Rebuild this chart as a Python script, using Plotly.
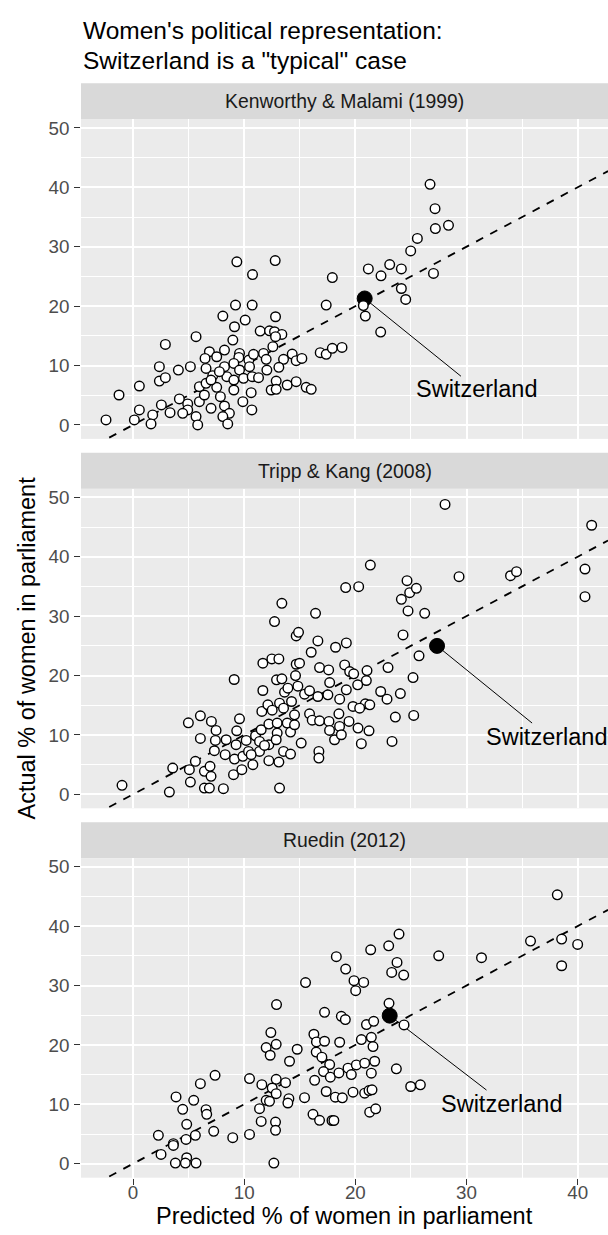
import plotly.graph_objects as go

# ---------------- data ----------------
panel_titles = ["Kenworthy & Malami (1999)", "Tripp & Kang (2008)", "Ruedin (2012)"]

km_pred = [9.34, 12.79, 10.75, -1.26, 0.12, -2.43, 9.22, 10.72, 8.08, 12.82, 9.13, 10.09, 11.44, 12.28,
           12.73, 13.39, 12.82, 5.67, 2.91, 8.98, 12.58, 6.87, 6.48, 7.53, 8.23, 9.58, 9.52, 10.42, 10.84,
           11.74, 11.98, 13.54, 14.32, 14.68, 15.19, 2.37, 4.08, 5.16, 2.37, 2.91, 6.57, 7.17, 8.23, 9.07,
           8.44, 9.07, 9.58, 9.94, 10.48, 10.72, 11.29, 12.04, 13.12, 12.88, 13.87, 14.68, 15.58, 16.03,
           12.43, 12.88, 0.57, 5.97, 6.57, 7.53, 7.86, 9.07, 9.88, 10.63, 10.69, 4.17, 4.92, 5.97, 7.02,
           8.23, 8.67, 8.08, 8.52, 5.67, 5.82, 4.92, 4.47, 2.55, 3.33, 1.77, 1.62, 0.57, 7.02, 7.77, 6.42,
           26.72, 27.17, 27.2, 28.38, 25.58, 24.98, 21.17, 23.09, 24.14, 22.31, 27.03, 17.93, 24.14, 24.53,
           17.38, 20.72, 20.9, 22.28, 16.84, 17.38, 17.93, 18.8]
km_act = [27.45, 27.67, 25.32, 5.04, 0.84, 0.84, 20.17, 20.17, 18.32, 18.21, 16.53, 17.65, 15.8, 15.85,
          15.69, 15.24, 14.85, 14.85, 13.56, 14.29, 13.17, 12.32, 11.2, 11.48, 12.61, 12.04, 11.37, 10.92,
          11.88, 12.04, 11.04, 11.04, 11.93, 10.81, 11.2, 9.8, 9.24, 9.8, 7.39, 7.96, 9.52, 8.29, 9.8,
          10.36, 8.12, 7.56, 9.24, 7.84, 9.8, 8.12, 7.96, 9.24, 9.69, 7.39, 6.72, 7.28, 6.33, 5.99, 5.88,
          5.99, 6.55, 6.44, 7.0, 6.33, 4.76, 5.88, 3.92, 5.43, 2.52, 4.37, 3.53, 3.92, 2.8, 3.19, 1.96,
          1.4, 0.17, 1.4, 0.0, 2.52, 1.96, 3.36, 2.07, 1.68, 0.17, 2.52, 7.56, 8.96, 5.04,
          40.5, 36.4, 33.05, 33.6, 31.4, 29.3, 26.27, 27.0, 26.27, 25.1, 25.5, 24.8, 22.97, 21.12,
          20.17, 20.1, 18.32, 15.63, 12.16, 11.88, 12.89, 13.05]

tk_pred = [-0.99, 3.27, 3.57, 5.16, 5.07, 5.61, 6.42, 6.93, 7.02, 6.42, 6.87, 8.13, 4.98, 6.06, 7.05,
           7.47, 6.06, 7.41, 7.32, 8.38, 8.29, 9.13, 9.04, 9.79, 9.88, 9.27, 9.33, 9.58, 9.1, 10.18,
           10.39, 10.78, 11.02, 11.38, 11.38, 11.53, 11.68, 11.59, 11.68, 12.13, 12.22, 12.22, 12.22,
           12.49, 13.12, 12.73, 13.39, 12.91, 13.39, 12.52, 12.97, 12.97, 12.88, 13.12, 13.18, 13.18,
           13.54, 13.63, 13.54, 13.93, 13.87, 14.26, 14.17, 14.17, 14.53, 14.53, 14.68, 14.89, 14.68,
           14.98, 14.62, 14.83, 15.13, 15.43, 15.88, 15.88, 16.03, 16.12, 16.42, 16.63, 16.78, 16.63,
           16.72, 16.72, 16.78, 11.83, 10.63,
           28.07, 41.26, 21.35, 19.13, 20.3, 24.65, 24.89, 25.49, 24.14, 24.74, 26.24, 29.33, 33.96,
           34.5, 40.66, 40.66, 24.29, 25.73, 25.19, 22.94, 22.28, 22.85, 24.05, 23.6, 25.25, 23.3,
           18.22, 19.19, 19.04, 19.49, 19.85, 21.05, 20.99, 20.21, 19.19, 17.69, 17.6, 18.59, 17.53,
           19.79, 20.9, 21.3, 20.39, 18.52, 17.63, 18.58, 19.43, 20.24, 21.23, 17.68, 18.13, 18.74, 20.54]
tk_act = [1.51, 0.39, 4.43, 2.07, 4.15, 5.55, 3.87, 4.71, 3.03, 1.06, 1.06, 0.95, 12.04, 13.22, 12.27,
          10.76, 9.41, 9.08, 7.34, 9.19, 6.67, 5.94, 3.31, 4.15, 6.39, 8.35, 10.7, 12.72, 19.33, 9.08,
          7.23, 4.99, 9.86, 7.23, 8.9, 10.87, 17.48, 13.95, 22.07, 15.07, 11.82, 8.35, 5.66,
          22.8, 22.8, 29.08, 32.16, 19.27, 19.44, 14.17, 11.99, 10.31, 9.19, 5.43, 1.06, 15.35,
          14.51, 17.2, 7.23, 17.87, 11.99, 15.63, 10.48, 6.78, 13.39, 11.71, 26.67, 27.28, 21.9,
          22.07, 20.0, 18.21, 8.63, 16.86, 17.42, 13.56, 23.92, 12.49, 30.48, 25.83, 21.34, 16.47,
          7.23, 6.11, 12.38, 8.24, 6.67,
          48.8, 45.3, 38.6, 34.8, 34.96, 35.97, 33.95, 34.68, 32.83, 30.87, 30.48, 36.64, 36.8,
          37.48, 37.93, 33.28, 26.83, 23.31, 19.66, 21.34, 17.31, 16.02, 16.97, 13.0, 13.28, 8.91,
          24.76, 25.49, 21.79, 20.67, 20.28, 20.84, 19.16, 18.43, 17.59, 18.82, 20.95, 16.02, 16.75,
          14.79, 15.24, 15.07, 14.51, 13.56, 12.27, 11.43, 12.27, 11.15, 10.7, 10.76, 9.19, 10.03, 8.52]

ru_pred = [15.52, 12.91, 12.4, 12.88, 11.98, 12.34, 14.77, 14.08, 7.38, 6.06, 10.48, 11.59, 12.88, 13.72,
           12.52, 12.88, 11.98, 12.28, 14.02, 13.93, 15.43, 11.38, 11.53, 12.82, 12.82, 10.48, 8.97,
           16.19, 16.78, 16.34, 16.27, 16.48, 3.87, 4.47, 5.46, 6.57, 6.63, 4.83, 5.61, 4.77, 7.26, 2.28,
           3.63, 3.63, 2.52, 4.83, 3.81, 4.71, 5.67, 12.67, 16.5,
           38.17, 35.76, 38.56, 40.0, 38.56, 31.35, 27.5, 23.93, 23.0, 21.38, 18.29, 19.13, 23.75, 23.27,
           24.35, 19.88, 20.75, 20.03, 23.03, 24.38, 17.23, 18.74, 19.1, 21.0, 21.65, 21.44, 21.59, 20.54,
           18.59, 17.23, 16.99, 17.69, 19.34, 20.09, 20.84, 21.74, 17.14, 17.75, 18.52, 19.64, 21.44,
           23.69, 17.38, 18.2, 18.83, 19.79, 20.84, 21.23, 21.5, 24.98, 25.85, 21.29, 21.83, 17.9, 18.07]
ru_act = [30.5, 26.8, 22.08, 20.11, 19.55, 18.26, 19.27, 17.25, 14.89, 13.48, 14.33, 13.31, 14.21, 13.65,
          12.75, 11.8, 10.67, 10.51, 10.96, 10.22, 11.12, 9.27, 7.13, 7.02, 5.62, 4.94, 4.38,
          8.31, 7.3, 14.04, 21.8, 18.8, 11.24, 9.16, 10.67, 9.1, 8.31, 6.63, 4.78, 4.1, 5.45, 4.78,
          3.37, 3.09, 1.57, 1.01, 0.11, 0.11, 0.11, 0.11, 20.5,
          45.27, 37.48, 37.82, 36.92, 33.33, 34.68, 35.01, 38.66, 36.69, 36.02, 34.85, 32.77, 33.89, 32.21,
          31.76, 30.81, 30.53, 29.13, 27.0, 23.36, 25.49, 24.82, 24.26, 23.42, 23.98, 21.29, 19.72, 20.9,
          20.45, 20.62, 17.93, 16.69, 16.08, 16.64, 16.92, 17.25, 15.52, 14.57, 15.29, 15.01, 15.24,
          15.97, 12.16, 11.2, 11.09, 12.04, 11.88, 12.32, 12.44, 13.0, 13.28, 8.68, 9.24, 7.28, 7.28]

swiss_pred = [20.84, 27.35, 23.09]
swiss_act = [21.29, 24.99, 24.93]
label_text = "Switzerland"
label_x = [30.9, 37.2, 33.15]
label_y = [6.0, 9.6, 10.1]
seg_end_x = [29.5, 35.9, 31.8]
seg_end_y = [8.2, 12.0, 12.4]

x_ticks = [0, 10, 20, 30, 40]
y_ticks = [0, 10, 20, 30, 40, 50]
x_range = [-4.68, 42.73]
y_range = [-2.35, 51.45]

title_lines = ["Women's political representation:", 'Switzerland is a "typical" case']
x_title = "Predicted % of women in parliament"
y_title = "Actual % of women in parliament"

# ---------------- layout geometry (pixels) ----------------
W, H = 608, 1235
PX0, PX1 = 81.0, 608.0
panel_top = [117.5, 487.5, 857.5]
panel_bot = [437.6, 807.6, 1177.6]
STRIP_H = 36.0
FONT = "Liberation Sans, Arial, Helvetica, sans-serif"

def fx(p):
    return p / W

def fy(p):
    return 1 - p / H

fig = go.Figure()
preds = [km_pred, tk_pred, ru_pred]
acts = [km_act, tk_act, ru_act]

for i in range(3):
    xa = "x" if i == 0 else f"x{i+1}"
    ya = "y" if i == 0 else f"y{i+1}"
    # 45-degree reference line
    fig.add_trace(go.Scatter(x=[x_range[0], x_range[1]], y=[x_range[0], x_range[1]], mode="lines",
                             line=dict(color="black", width=1.8, dash="8px,8px"),
                             xaxis=xa, yaxis=ya, showlegend=False, hoverinfo="skip"))
    # label segment
    fig.add_trace(go.Scatter(x=[swiss_pred[i], seg_end_x[i]], y=[swiss_act[i], seg_end_y[i]], mode="lines",
                             line=dict(color="black", width=1.0),
                             xaxis=xa, yaxis=ya, showlegend=False, hoverinfo="skip"))
    # Switzerland
    fig.add_trace(go.Scatter(x=[swiss_pred[i]], y=[swiss_act[i]], mode="markers",
                             marker=dict(symbol="circle", size=15, color="black",
                                         line=dict(color="black", width=1)),
                             xaxis=xa, yaxis=ya, showlegend=False))
    # all countries
    fig.add_trace(go.Scatter(x=preds[i], y=acts[i], mode="markers",
                             marker=dict(symbol="circle", size=9.6, color="white",
                                         line=dict(color="black", width=1.4)),
                             xaxis=xa, yaxis=ya, showlegend=False))

axis_common = dict(showline=False, zeroline=False, gridcolor="white", gridwidth=2.2,
                   tickfont=dict(family=FONT, size=18.8, color="#4D4D4D"),
                   tickcolor="#333333", tickwidth=1.1, ticklen=5.9, ticklabelstandoff=0)

layout = dict(width=W, height=H, margin=dict(l=0, r=0, t=0, b=0, pad=0),
              paper_bgcolor="white", plot_bgcolor="#EBEBEB", showlegend=False,
              font=dict(family=FONT, color="black"))

for i in range(3):
    xkey = "xaxis" if i == 0 else f"xaxis{i+1}"
    ykey = "yaxis" if i == 0 else f"yaxis{i+1}"
    yanchor = "y" if i == 0 else f"y{i+1}"
    xanchor = "x" if i == 0 else f"x{i+1}"
    xa = dict(axis_common)
    xa.update(domain=[fx(PX0), fx(PX1)], range=x_range, anchor=yanchor,
              tickmode="array", tickvals=x_ticks, ticktext=[str(v) for v in x_ticks],
              minor=dict(showgrid=True, gridcolor="white", gridwidth=1.1, ticks="",
                         tickmode="array", tickvals=[-5, 5, 15, 25, 35, 45]))
    if i < 2:
        xa.update(showticklabels=False, ticks="")
    else:
        xa.update(showticklabels=True, ticks="outside", ticklabelstandoff=-8)
    ya = dict(axis_common)
    ya.update(domain=[fy(panel_bot[i]), fy(panel_top[i])], range=y_range, anchor=xanchor,
              tickmode="array", tickvals=y_ticks, ticktext=[str(v) for v in y_ticks],
              ticks="outside", ticklabelstandoff=1,
              minor=dict(showgrid=True, gridcolor="white", gridwidth=1.1, ticks="",
                         tickmode="array", tickvals=[5, 15, 25, 35, 45]))
    layout[xkey] = xa
    layout[ykey] = ya

shapes = []
annotations = []
for i in range(3):
    top = panel_top[i] - STRIP_H
    shapes.append(dict(type="rect", xref="paper", yref="paper", x0=fx(PX0), x1=fx(PX1),
                       y0=fy(panel_top[i]), y1=fy(top), fillcolor="#D9D9D9", line=dict(width=0),
                       layer="below"))
    annotations.append(dict(text=panel_titles[i], xref="paper", yref="paper",
                            x=fx((PX0 + PX1) / 2), y=fy(top + STRIP_H / 2),
                            xanchor="center", yanchor="middle", showarrow=False,
                            font=dict(family=FONT, size=19.4, color="#1A1A1A")))
    xr = "x" if i == 0 else f"x{i+1}"
    yr = "y" if i == 0 else f"y{i+1}"
    annotations.append(dict(text=label_text, xref=xr, yref=yr, x=label_x[i], y=label_y[i],
                            xanchor="center", yanchor="middle", showarrow=False,
                            font=dict(family=FONT, size=23.5, color="black")))

annotations.append(dict(text=title_lines[0], xref="paper", yref="paper", x=fx(PX0), y=fy(29),
                        xanchor="left", yanchor="middle", showarrow=False,
                        font=dict(family=FONT, size=24.5, color="black")))
annotations.append(dict(text=title_lines[1], xref="paper", yref="paper", x=fx(PX0), y=fy(59),
                        xanchor="left", yanchor="middle", showarrow=False,
                        font=dict(family=FONT, size=24.5, color="black")))
annotations.append(dict(text=x_title, xref="paper", yref="paper", x=fx((PX0 + PX1) / 2), y=fy(1216),
                        xanchor="center", yanchor="middle", showarrow=False,
                        font=dict(family=FONT, size=23.5, color="black")))
annotations.append(dict(text=y_title, xref="paper", yref="paper", x=fx(27), y=fy((panel_top[0] + panel_bot[2]) / 2),
                        xanchor="center", yanchor="middle", showarrow=False, textangle=-90,
                        font=dict(family=FONT, size=23.5, color="black")))

layout["shapes"] = shapes
layout["annotations"] = annotations
fig.update_layout(**layout)
fig.write_html("out.html", config={"displayModeBar": False},
               post_script="document.body.style.margin='0';document.body.style.padding='0';"
                           "document.body.style.overflow='hidden';")
